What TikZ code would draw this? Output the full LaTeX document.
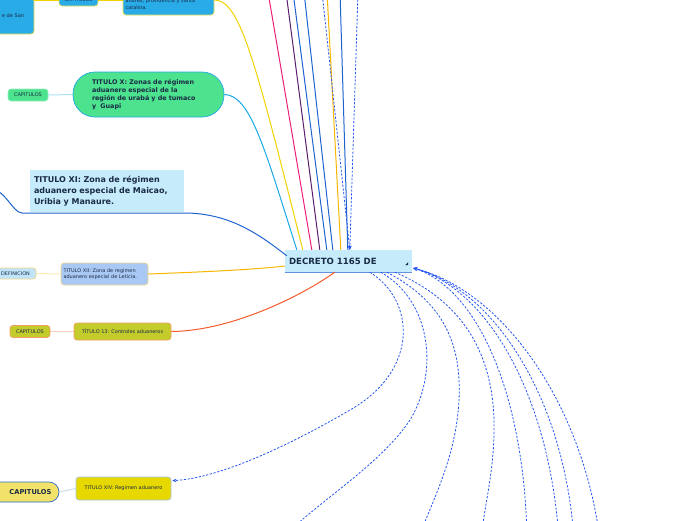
\documentclass[tikz,border=0pt]{standalone}
\usepackage{fontspec}
\setmainfont{DejaVu Sans}
\usetikzlibrary{arrows.meta,positioning,calc}

\definecolor{navy}{HTML}{1A2B45}
\definecolor{skyfill}{HTML}{29ABE8}
\definecolor{yedge}{HTML}{F2E14C}
\definecolor{greenfill}{HTML}{4DE38E}
\definecolor{greenedge}{HTML}{1FA9E1}
\definecolor{paleblue}{HTML}{C6EBFB}
\definecolor{lilacfill}{HTML}{A9C9F4}
\definecolor{sandedge}{HTML}{F5D58A}
\definecolor{olivefill}{HTML}{C4CC2C}
\definecolor{oliveedge}{HTML}{F0A060}
\definecolor{lemonfill}{HTML}{E7D900}
\definecolor{greyedge}{HTML}{A8C4DC}
\definecolor{pillfill}{HTML}{F2E26A}
\definecolor{pilledge}{HTML}{2A6BD0}
\definecolor{yline}{HTML}{F2D200}
\definecolor{cline}{HTML}{19A9E6}
\definecolor{bline}{HTML}{1F63D0}
\definecolor{oline}{HTML}{F7B500}
\definecolor{rline}{HTML}{F25A2A}
\definecolor{pinkline}{HTML}{EC1E79}
\definecolor{purpleline}{HTML}{5B1D6E}
\definecolor{dashblue}{HTML}{2454F2}

\begin{document}
\begin{tikzpicture}[x=1pt,y=-1pt,
  box/.style={draw, rounded corners=3pt, line width=0.7pt, inner sep=0pt, text=navy},
  tiny/.style={font=\fontsize{5}{6.3}\selectfont},
  link/.style={line width=1pt},
  thin link/.style={line width=1pt, opacity=0.6},
  dlink/.style={draw=dashblue, line width=0.8pt, dash pattern=on 2.2pt off 1.6pt},
  tip/.style={-{Stealth[length=4pt,width=3.5pt]}}
]
  \useasboundingbox (0,0) rectangle (696,520);
  \clip (0,0) rectangle (696,520);

  % Centre
  \node[fill=paleblue, minimum width=127pt, minimum height=22pt, text width=119pt,
        align=left, inner sep=0pt, text=navy, font=\bfseries\fontsize{8.6}{10}\selectfont]
        (dec) at (348.5,261) {DECRETO 1165 DE};
  \draw[bline!70, line width=1pt] (dec.south west) -- (dec.south east);
  \fill[navy] ($(dec.south east)+(-4,-7)$) -- ++(-3,0) -- ++(3,-3) -- cycle;

  % Titulo IX (cut at the top)
  \node[box, fill=skyfill, draw=yedge, minimum width=94pt, minimum height=36pt,
        text width=74pt, align=right, tiny] (sanbox) at (-13,16) {e de San};
  \node[box, fill=skyfill, draw=yedge, minimum width=39pt, minimum height=12pt, tiny]
        (capnine) at (78.5,0) {CAPITULOS};
  \node[box, fill=skyfill, draw=yedge, minimum width=91pt, minimum height=22pt,
        text width=86pt, align=left, tiny] (ands) at (168.5,4)
        {andres, providencia y santa\\catalina.};
  \draw[link, yline] ($(sanbox.east)+(0,-16)$) -- (capnine.west);
  \draw[link, yline] (capnine.east) -- ($(ands.west)+(0,-4)$);
  \draw[link, yline] ($(ands.east)+(0,-4)$) .. controls (240,0) and (255,60) ..
        ($(dec.north west)+(18,0)$);

  % Titulo X
  \node[box, fill=greenfill, draw=greenedge, rounded corners=22pt, minimum width=151pt,
        minimum height=45pt, text width=113pt, align=left,
        font=\bfseries\fontsize{6.4}{8}\selectfont] (tx) at (148.5,94.5)
        {TITULO X: Zonas de régimen\\aduanero especial de la\\región de urabá y de tumaco\\y\ \ Guapi};
  \node[box, fill=greenfill, draw=greenfill!60, minimum width=40pt, minimum height=12pt, tiny]
        (capx) at (28,95) {CAPITULOS};
  \draw[thin link, cline!60] (capx.east) -- (tx.west);
  \draw[link, cline] (tx.east) .. controls (250,95) and (264,146) ..
        ($(dec.north west)+(12,0)$);

  % Titulo XI
  \node[fill=paleblue, minimum width=154pt, minimum height=42pt, text width=146pt,
        align=left, inner sep=0pt, text=navy, font=\bfseries\fontsize{8}{11}\selectfont]
        (txi) at (107,191)
        {TITULO XI: Zona de régimen\\aduanero especial de Maicao,\\Uribia y Manaure.};
  \coordinate (xiroot) at (-15,188);
  \draw[link, bline] (xiroot) .. controls (5,186) and (12,213) .. (22,213) -- (184,213)
        .. controls (230,213) and (260,235) .. ($(dec.north west)+(2,6)$);

  % Titulo XII
  \node[box, fill=lilacfill, draw=sandedge, minimum width=87pt, minimum height=22pt,
        text width=82pt, align=left, tiny] (txii) at (104.5,274)
        {TITULO XII: Zona de regimen\\aduanero especial de Leticia.};
  \node[box, fill=paleblue!80!lilacfill, draw=sandedge, minimum width=41pt,
        minimum height=11pt, font=\fontsize{4.9}{6}\selectfont] (defn) at (15.5,273.5) {DEFINICION};
  \draw[thin link, oline!50] (defn.east) -- (txii.west);
  \draw[link, oline] (txii.east) .. controls (200,272) and (250,270) .. (dec.west|-0,266);

  % Titulo 13
  \node[box, fill=olivefill, draw=oliveedge, minimum width=97pt, minimum height=17pt, tiny]
        (txiii) at (122.5,331.5) {TÍTULO 13: Controles aduaneros};
  \node[box, fill=olivefill, draw=oliveedge, minimum width=40pt, minimum height=12pt, tiny]
        (capxiii) at (30,331.5) {CAPITULOS};
  \draw[thin link, rline!50] (capxiii.east) -- (txiii.west);
  \draw[link, rline] (txiii.east) .. controls (230,331) and (300,297) ..
        ($(dec.south west)+(50,0)$);

  % Titulo XIV
  \node[box, fill=lemonfill, draw=greyedge, minimum width=95pt, minimum height=23pt, tiny]
        (txiv) at (123.5,488.5) {TITULO XIV: Regimen aduanero};
  \node[box, fill=pillfill, draw=pilledge, rounded corners=10pt, minimum width=79pt,
        minimum height=20pt, text width=64pt, align=right,
        font=\bfseries\fontsize{6.7}{8}\selectfont] (capxiv) at (19.5,492) {CAPITULOS};
  \draw[thin link, greyedge] (capxiv.east) -- (txiv.west);

  % Lines from the top
  \foreach \x/\e/\c in {268/27/pinkline, 286/35/purpleline, 293/42/bline,
                        304/48/bline, 327/56/oline, 340/63/bline} {
    \coordinate (top\x) at (\x,-8);
    \draw[link, \c] (top\x) -- ($(dec.north west)+(\e,0)$);
  }
  \coordinate (dotA) at (322,-8);
  \coordinate (dotB) at (358,-8);
  \draw[dlink, tip] (dotA) -- ($(dec.north west)+(65,0)$);
  \draw[dlink, tip] (dotB) -- ($(dec.north west)+(65,0)$);

  % Dashed links going down
  \draw[dlink, tip] ($(dec.south west)+(85,0)$) .. controls (415,300) and (420,370) ..
        (350,410) .. controls (290,445) and (220,478) .. ($(txiv.north east)+(1,4)$);
  \coordinate (endB) at (280,540);
  \coordinate (endC) at (418,540);
  \coordinate (endD) at (481,540);
  \draw[dlink] ($(dec.south west)+(96,0)$) .. controls (430,300) and (440,370) ..
        (410,420) .. controls (380,465) and (320,500) .. (endB);
  \draw[dlink] ($(dec.south west)+(102,0)$) .. controls (440,300) and (462,340) ..
        (459,400) .. controls (456,460) and (430,505) .. (endC);
  \draw[dlink] ($(dec.south west)+(110,0)$) .. controls (460,300) and (492,350) ..
        (494,420) .. controls (495,470) and (485,500) .. (endD);

  % Dashed links coming back
  \foreach \b/\c/\d in {527/525/480, 559/550/490, 574/565/495, 600/582/500} {
    \coordinate (back\b) at (\b,540);
    \draw[dlink, tip] (back\b) .. controls (\c,400) and (\d,290) .. ($(dec.east)+(1,7)$);
  }
\end{tikzpicture}
\end{document}
